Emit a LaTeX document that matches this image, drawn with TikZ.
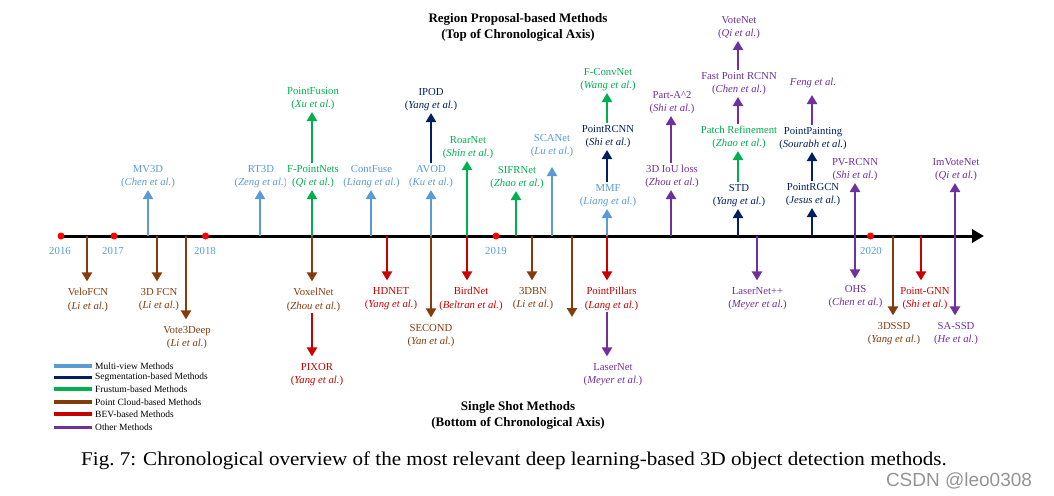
\documentclass[tikz,border=0pt]{standalone}
\usepackage{fontspec}
\setmainfont{Liberation Serif}
\newfontfamily\wmfont{Liberation Sans}
\newfontfamily\capfont{Liberation Serif}[FakeStretch=1.08]
\usetikzlibrary{arrows.meta}
\definecolor{cMV}{RGB}{91,155,213}
\definecolor{cSeg}{RGB}{0,32,96}
\definecolor{cFru}{RGB}{0,176,80}
\definecolor{cPC}{RGB}{132,60,12}
\definecolor{cBEV}{RGB}{200,0,0}
\definecolor{cOth}{RGB}{112,48,160}
\begin{document}
\begin{tikzpicture}[x=1pt,y=-1pt,
  arr/.style={line width=2.5pt,-{Triangle[width=10pt,length=9pt]}},
  lbl/.style={align=center,inner sep=1pt,fill=white,font=\fontsize{10.7}{13.5}\selectfont},
  up/.style={lbl,anchor=south,outer ysep=1pt},
  dn/.style={lbl,anchor=north,outer sep=0pt},
  dnarr/.style={arr,shorten >=6pt},
  axisline/.style={line width=3pt,-{Triangle[width=13pt,length=12pt]}},
  yeardot/.style={circle,fill=red,inner sep=0pt,minimum size=7pt},
  yearlbl/.style={text=cMV,inner sep=1pt,font=\fontsize{10.8}{12}\selectfont},
  ttl/.style={align=center,font=\fontsize{13}{16}\selectfont\bfseries},
  leg/.style={line width=3.2pt},
  legt/.style={anchor=west,inner sep=0pt,font=\fontsize{9.5}{11}\selectfont},
]
\useasboundingbox (0,0) rectangle (1054,495);

% titles
\node[ttl] (ttop) at (518,27) {Region Proposal-based Methods\\(Top of Chronological Axis)};
\node[ttl] (tbot) at (518,415.5) {Single Shot Methods\\(Bottom of Chronological Axis)};

% axis
\coordinate (axL) at (61,236);
\coordinate (axR) at (984,236);
\draw[axisline] (axL) -- (axR);

% ---------------- top arrows ----------------
\coordinate (aMV3D) at (148,236);
\node[up,text=cMV] (MV3D) at (148,190) {MV3D\\(\textit{Chen et al.})};
\draw[arr,cMV] (aMV3D) -- (aMV3D |- MV3D.south);

\coordinate (aRT3D) at (260,236);
\node[up,text=cMV] (RT3D) at (261,190) {RT3D\\(\textit{Zeng et al.})};
\draw[arr,cMV] (aRT3D) -- (aRT3D |- RT3D.south);

\coordinate (aFPN) at (312,236);
\node[up,text=cFru] (FPN) at (313,190) {F-PointNets\\(\textit{Qi et al.})};
\draw[arr,cFru] (aFPN) -- (aFPN |- FPN.south);
\node[up,text=cFru] (PFus) at (313,112) {PointFusion\\(\textit{Xu et al.})};
\draw[arr,cFru] (aFPN |- FPN.north) -- (aFPN |- PFus.south);

\coordinate (aCF) at (371,236);
\node[up,text=cMV] (CF) at (371.5,190) {ContFuse\\(\textit{Liang et al.})};
\draw[arr,cMV] (aCF) -- (aCF |- CF.south);

\coordinate (aAVOD) at (431,236);
\node[up,text=cMV] (AVOD) at (431,190) {AVOD\\(\textit{Ku et al.})};
\draw[arr,cMV] (aAVOD) -- (aAVOD |- AVOD.south);
\node[up,text=cSeg] (IPOD) at (431,113) {IPOD\\(\textit{Yang et al.})};
\draw[arr,cSeg] (AVOD.north) -- (IPOD.south);

\coordinate (aRoar) at (467,236);
\node[up,text=cFru] (Roar) at (468,161) {RoarNet\\(\textit{Shin et al.})};
\draw[arr,cFru] (aRoar) -- (aRoar |- Roar.south);

\coordinate (aSIFR) at (516,236);
\node[up,text=cFru] (SIFR) at (517,191) {SIFRNet\\(\textit{Zhao et al.})};
\draw[arr,cFru] (aSIFR) -- (aSIFR |- SIFR.south);

\coordinate (aSCA) at (552,236);
\node[up,text=cMV] (SCA) at (552,159) {SCANet\\(\textit{Lu et al.})};
\draw[arr,cMV,shorten >=8pt] (aSCA) -- (aSCA |- SCA.south);

\coordinate (aMMF) at (607,236);
\node[up,text=cMV] (MMF) at (608,209) {MMF\\(\textit{Liang et al.})};
\draw[arr,cMV] (aMMF) -- (aMMF |- MMF.south);
\node[up,text=cSeg] (PRCNN) at (608,150) {PointRCNN\\(\textit{Shi et al.})};
\draw[arr,cSeg] (aMMF |- MMF.north) -- (aMMF |- PRCNN.south);
\node[up,text=cFru] (FConv) at (608,93) {F-ConvNet\\(\textit{Wang et al.})};
\draw[arr,cFru] (aMMF |- PRCNN.north) -- (aMMF |- FConv.south);

\coordinate (aIoU) at (671,236);
\node[up,text=cOth] (IoU) at (672,190) {3D IoU loss\\(\textit{Zhou et al.})};
\draw[arr,cOth] (aIoU) -- (aIoU |- IoU.south);
\node[up,text=cOth] (PartA) at (672,116) {Part-A\textasciicircum{}2\\(\textit{Shi et al.})};
\draw[arr,cOth] (aIoU |- IoU.north) -- (aIoU |- PartA.south);

\coordinate (aSTD) at (738,236);
\node[up,text=cSeg] (STD) at (739,209) {STD\\(\textit{Yang et al.})};
\draw[arr,cSeg] (aSTD) -- (aSTD |- STD.south);
\node[up,text=cFru] (Patch) at (739,151) {Patch Refinement\\(\textit{Zhao et al.})};
\draw[arr,cFru] (aSTD |- STD.north) -- (aSTD |- Patch.south);
\node[up,text=cOth] (FastP) at (739,97) {Fast Point RCNN\\(\textit{Chen et al.})};
\draw[arr,cOth] (aSTD |- Patch.north) -- (aSTD |- FastP.south);
\node[up,text=cOth] (Vote) at (739,41) {VoteNet\\(\textit{Qi et al.})};
\draw[arr,cOth] (aSTD |- FastP.north) -- (aSTD |- Vote.south);

\coordinate (aPRG) at (812,236);
\node[up,text=cSeg] (PRG) at (813,208) {PointRGCN\\(\textit{Jesus et al.})};
\draw[arr,cSeg] (aPRG) -- (aPRG |- PRG.south);
\node[up,text=cSeg] (PPaint) at (813,152) {PointPainting\\(\textit{Sourabh et al.})};
\draw[arr,cSeg] (aPRG |- PRG.north) -- (aPRG |- PPaint.south);
\node[up,text=cOth] (Feng) at (813,90) {\textit{Feng et al.}};
\draw[arr,cOth,shorten >=5pt] (aPRG |- PPaint.north) -- (aPRG |- Feng.south);

\coordinate (aPV) at (855,236);
\node[up,text=cOth] (PV) at (855,183) {PV-RCNN\\(\textit{Shi et al.})};
\draw[arr,cOth] (aPV) -- (aPV |- PV.south);

\coordinate (aImV) at (955,236);
\node[up,text=cOth] (ImV) at (956,183) {ImVoteNet\\(\textit{Qi et al.})};
\draw[arr,cOth] (aImV) -- (aImV |- ImV.south);

% ---------------- bottom arrows ----------------
\coordinate (aVelo) at (87,236);
\node[dn,text=cPC] (Velo) at (88,287.4) {VeloFCN\\(\textit{Li et al.})};
\draw[dnarr,cPC] (aVelo) -- (aVelo |- Velo.north);

\coordinate (aFCN) at (157,236);
\node[dn,text=cPC] (FCN) at (159,287.4) {3D FCN\\(\textit{Li et al.})};
\draw[dnarr,cPC] (aFCN) -- (aFCN |- FCN.north);

\coordinate (aV3D) at (186,236);
\node[dn,text=cPC] (V3D) at (187,325.4) {Vote3Deep\\(\textit{Li et al.})};
\draw[dnarr,cPC] (aV3D) -- (aV3D |- V3D.north);

\coordinate (aVox) at (312,236);
\node[dn,text=cPC] (Vox) at (313.5,287.4) {VoxelNet\\(\textit{Zhou et al.})};
\draw[dnarr,cPC] (aVox) -- (aVox |- Vox.north);
\node[dn,text=cBEV] (PIXOR) at (317,362.4) {PIXOR\\(\textit{Yang et al.})};
\draw[dnarr,cBEV] (aVox |- Vox.south) -- (aVox |- PIXOR.north);

\coordinate (aHD) at (387,236);
\node[dn,text=cBEV] (HD) at (391,286.4) {HDNET\\(\textit{Yang et al.})};
\draw[dnarr,cBEV] (aHD) -- (aHD |- HD.north);

\coordinate (aSEC) at (431,236);
\node[dn,text=cPC] (SEC) at (431,323.4) {SECOND\\(\textit{Yan et al.})};
\draw[dnarr,cPC] (aSEC) -- (aSEC |- SEC.north);

\coordinate (aBird) at (467,236);
\node[dn,text=cBEV] (Bird) at (471,286.4) {BirdNet\\(\textit{Beltran et al.})};
\draw[dnarr,cBEV] (aBird) -- (aBird |- Bird.north);

\coordinate (aDBN) at (532,236);
\node[dn,text=cPC] (DBN) at (533,286.4) {3DBN\\(\textit{Li et al.})};
\draw[dnarr,cPC] (aDBN) -- (aDBN |- DBN.north);

\coordinate (aUnl) at (572,236);
\coordinate (eUnl) at (572,317);
\draw[arr,cPC] (aUnl) -- (eUnl);

\coordinate (aPP) at (607,236);
\node[dn,text=cBEV] (PP) at (611.5,286.4) {PointPillars\\(\textit{Lang et al.})};
\draw[dnarr,cBEV] (aPP) -- (aPP |- PP.north);
\node[dn,text=cOth] (LN) at (613,362.4) {LaserNet\\(\textit{Meyer et al.})};
\draw[dnarr,cOth] (aPP |- PP.south) -- (aPP |- LN.north);

\coordinate (aLNpp) at (757,236);
\node[dn,text=cOth] (LNpp) at (757.5,286.4) {LaserNet++\\(\textit{Meyer et al.})};
\draw[dnarr,cOth] (aLNpp) -- (aLNpp |- LNpp.north);

\node[dn,text=cOth] (OHS) at (855.5,284.4) {OHS\\(\textit{Chen et al.})};
\draw[dnarr,cOth] (aPV) -- (aPV |- OHS.north);

\coordinate (aSSD) at (893,236);
\node[dn,text=cPC] (SSD) at (894,321.4) {3DSSD\\(\textit{Yang et al.})};
\draw[dnarr,cPC] (aSSD) -- (aSSD |- SSD.north);

\coordinate (aGNN) at (921,236);
\node[dn,text=cBEV] (GNN) at (925,286.4) {Point-GNN\\(\textit{Shi et al.})};
\draw[dnarr,cBEV] (aGNN) -- (aGNN |- GNN.north);

\node[dn,text=cOth] (SASSD) at (956,321.4) {SA-SSD\\(\textit{He et al.})};
\draw[dnarr,cOth] (aImV) -- (aImV |- SASSD.north);

% years
\node[yeardot] (d2016) at (61,236) {};
\node[yeardot] (d2017) at (114,236) {};
\node[yeardot] (d2018) at (205.5,236) {};
\node[yeardot] (d2019) at (496,236) {};
\node[yeardot] (d2020) at (870.5,236) {};
\node[yearlbl] (y2016) at (60,251) {2016};
\node[yearlbl] (y2017) at (113,251) {2017};
\node[yearlbl] (y2018) at (205,251) {2018};
\node[yearlbl] (y2019) at (496,251) {2019};
\node[yearlbl] (y2020) at (871,251) {2020};

% legend
\draw[leg,cMV]  (54,366) -- (92,366);
\draw[leg,cSeg] (54,377.5) -- (92,377.5);
\draw[leg,cFru] (54,389) -- (92,389);
\draw[leg,cPC]  (54,402) -- (92,402);
\draw[leg,cBEV] (54,414) -- (92,414);
\draw[leg,cOth] (54,427.5) -- (92,427.5);
\node[legt] (L1) at (95,366) {Multi-view Methods};
\node[legt] (L2) at (95,377.5) {Segmentation-based Methods};
\node[legt] (L3) at (95,389) {Frustum-based Methods};
\node[legt] (L4) at (95,402) {Point Cloud-based Methods};
\node[legt] (L5) at (95,414) {BEV-based Methods};
\node[legt] (L6) at (95,427.5) {Other Methods};

% caption
\node[font=\capfont\fontsize{19.5}{22}\selectfont,inner sep=0pt] (cap) at (514,461) {Fig.~7: Chronological overview of the most relevant deep learning-based 3D object detection methods.};
\node[font=\wmfont\fontsize{19}{22}\selectfont,text=black!42,inner sep=0pt] (wm) at (959,481) {CSDN @leo0308};
\end{tikzpicture}
\end{document}
